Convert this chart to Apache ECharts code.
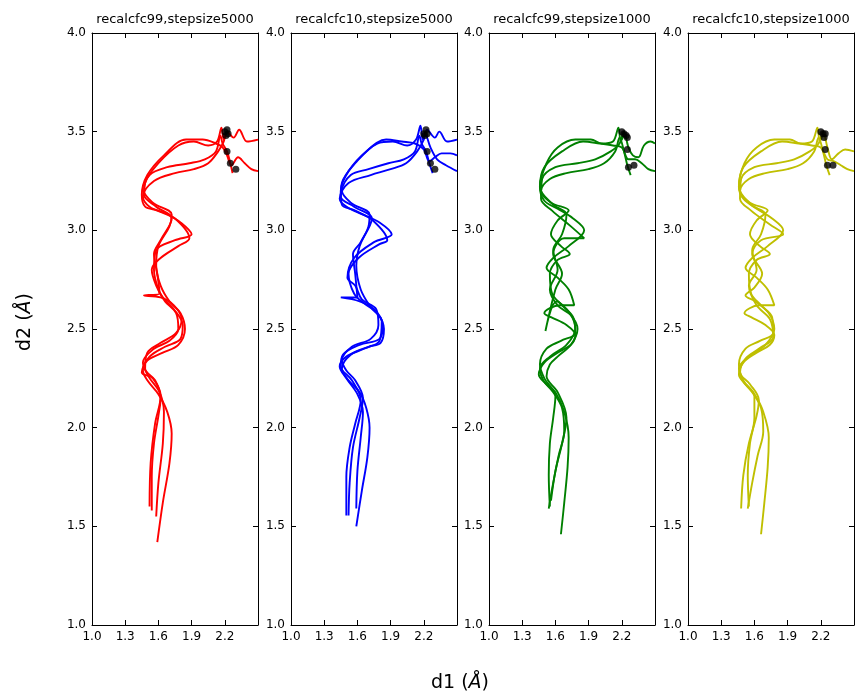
<!DOCTYPE html>
<html><head><meta charset="utf-8">
<script src="https://cdn.jsdelivr.net/npm/echarts@6/dist/echarts.min.js"></script>
<style>html,body{margin:0;padding:0;background:#fff}#c{width:859px;height:695px}</style>
</head><body><div id="c"></div>
<script>
// ---- data ----
const panelTitles = ["recalcfc99,stepsize5000","recalcfc10,stepsize5000","recalcfc99,stepsize1000","recalcfc10,stepsize1000"];
const panelColors = ["#ff0000","#0000ff","#008000","#bfbf00"];
const xTicks = [1.0,1.3,1.6,1.9,2.2];
const yTicks = [1.0,1.5,2.0,2.5,3.0,3.5,4.0];

const red_a = [[1.54,1.58],[1.54,1.75],[1.56,1.92],[1.60,2.06],[1.62,2.15],[1.57,2.24],[1.48,2.30],[1.50,2.38],[1.62,2.43],[1.76,2.48],[1.81,2.55],[1.74,2.62],[1.62,2.66],[1.47,2.67],[1.61,2.68],[1.59,2.78],[1.56,2.88],[1.62,2.95],[1.72,3.06],[1.58,3.12],[1.47,3.18],[1.48,3.24],[1.60,3.34],[1.78,3.43],[1.92,3.45],[2.05,3.43],[2.13,3.45],[2.17,3.52],[2.19,3.46],[2.21,3.49]];
const red_b = [[1.58,1.55],[1.60,1.72],[1.64,1.92],[1.65,2.08],[1.61,2.18],[1.51,2.26],[1.46,2.33],[1.56,2.40],[1.70,2.44],[1.78,2.50],[1.76,2.58],[1.66,2.64],[1.60,2.70],[1.56,2.80],[1.58,2.90],[1.75,2.95],[1.90,2.98],[1.80,3.04],[1.68,3.08],[1.52,3.12],[1.46,3.17],[1.56,3.25],[1.75,3.29],[1.92,3.31],[2.05,3.34],[2.14,3.40],[2.19,3.45],[2.22,3.50],[2.28,3.47],[2.33,3.51],[2.40,3.45],[2.50,3.46]];
const red_c = [[1.59,1.42],[1.64,1.62],[1.70,1.82],[1.72,1.97],[1.68,2.08],[1.60,2.17],[1.50,2.24],[1.46,2.29],[1.52,2.36],[1.66,2.41],[1.80,2.45],[1.82,2.52],[1.74,2.60],[1.64,2.66],[1.58,2.72],[1.54,2.80],[1.62,2.86],[1.78,2.92],[1.88,2.96],[1.75,3.06],[1.60,3.10],[1.48,3.12],[1.45,3.18],[1.50,3.28],[1.65,3.38],[1.85,3.46],[2.00,3.46],[2.12,3.44],[2.18,3.42],[2.22,3.38],[2.26,3.33],[2.32,3.37],[2.38,3.34],[2.44,3.31],[2.50,3.30]];
const red_d = [[1.52,1.60],[1.53,1.82],[1.57,2.02],[1.62,2.16],[1.55,2.25],[1.45,2.28],[1.50,2.34],[1.64,2.38],[1.78,2.42],[1.84,2.50],[1.80,2.58],[1.70,2.64],[1.62,2.72],[1.58,2.82],[1.60,2.92],[1.70,3.02],[1.72,3.08],[1.55,3.14],[1.47,3.20],[1.52,3.28],[1.68,3.32],[1.88,3.34],[2.02,3.36],[2.12,3.40],[2.16,3.48],[2.18,3.44],[2.22,3.40],[2.25,3.34],[2.27,3.29]];

const blue_a = [[1.50,1.555],[1.50,1.75],[1.53,1.90],[1.58,2.02],[1.63,2.14],[1.55,2.24],[1.45,2.31],[1.47,2.37],[1.62,2.42],[1.80,2.45],[1.83,2.52],[1.75,2.60],[1.62,2.64],[1.45,2.66],[1.60,2.66],[1.58,2.78],[1.56,2.88],[1.63,2.94],[1.73,3.06],[1.57,3.12],[1.45,3.17],[1.46,3.24],[1.58,3.34],[1.78,3.44],[1.92,3.45],[2.05,3.43],[2.13,3.46],[2.17,3.53],[2.19,3.46],[2.21,3.49],[2.26,3.42],[2.32,3.36],[2.40,3.33],[2.50,3.30]];
const blue_b = [[1.52,1.555],[1.53,1.72],[1.56,1.90],[1.62,2.05],[1.65,2.15],[1.58,2.24],[1.50,2.29],[1.46,2.34],[1.55,2.41],[1.72,2.45],[1.79,2.52],[1.77,2.60],[1.64,2.65],[1.58,2.72],[1.51,2.76],[1.57,2.86],[1.75,2.94],[1.91,2.98],[1.80,3.04],[1.65,3.08],[1.50,3.12],[1.44,3.16],[1.52,3.24],[1.72,3.28],[1.90,3.31],[2.04,3.34],[2.14,3.40],[2.20,3.46],[2.23,3.51],[2.30,3.47],[2.34,3.50],[2.41,3.45],[2.50,3.46]];
const blue_c = [[1.59,1.50],[1.64,1.68],[1.69,1.85],[1.71,2.00],[1.68,2.10],[1.62,2.18],[1.52,2.24],[1.46,2.30],[1.54,2.37],[1.70,2.41],[1.81,2.43],[1.84,2.50],[1.78,2.58],[1.66,2.63],[1.57,2.68],[1.52,2.78],[1.61,2.86],[1.80,2.93],[1.87,2.95],[1.74,3.05],[1.58,3.10],[1.46,3.13],[1.45,3.20],[1.52,3.30],[1.68,3.40],[1.86,3.46],[2.00,3.45],[2.12,3.44],[2.20,3.41],[2.25,3.35],[2.30,3.37],[2.36,3.39],[2.44,3.39],[2.50,3.38]];
const blue_d = [[1.59,1.59],[1.60,1.78],[1.63,1.95],[1.65,2.08],[1.60,2.17],[1.50,2.25],[1.44,2.31],[1.50,2.36],[1.66,2.40],[1.80,2.44],[1.82,2.54],[1.72,2.61],[1.63,2.70],[1.59,2.82],[1.62,2.92],[1.70,3.02],[1.71,3.08],[1.54,3.14],[1.46,3.20],[1.54,3.28],[1.70,3.31],[1.88,3.34],[2.02,3.36],[2.12,3.40],[2.16,3.48],[2.18,3.44],[2.22,3.40],[2.25,3.34],[2.28,3.29]];

const green_a = [[1.65,1.46],[1.68,1.62],[1.71,1.80],[1.72,1.95],[1.68,2.08],[1.60,2.18],[1.52,2.22],[1.45,2.27],[1.50,2.33],[1.62,2.38],[1.74,2.42],[1.78,2.47],[1.70,2.52],[1.56,2.56],[1.50,2.58],[1.64,2.62],[1.77,2.62],[1.72,2.70],[1.62,2.76],[1.52,2.81],[1.58,2.86],[1.72,2.92],[1.86,3.00],[1.76,3.06],[1.62,3.11],[1.50,3.15],[1.46,3.22],[1.52,3.34],[1.62,3.42],[1.78,3.46],[1.92,3.46],[2.02,3.44],[2.12,3.45],[2.17,3.52],[2.19,3.45],[2.22,3.49]];
const green_b = [[1.54,1.59],[1.58,1.72],[1.63,1.86],[1.68,1.98],[1.66,2.10],[1.58,2.18],[1.49,2.24],[1.46,2.30],[1.55,2.36],[1.70,2.42],[1.78,2.50],[1.73,2.58],[1.61,2.64],[1.51,2.49],[1.60,2.70],[1.66,2.78],[1.58,2.88],[1.68,2.96],[1.86,2.96],[1.74,3.02],[1.57,3.10],[1.47,3.16],[1.48,3.26],[1.60,3.32],[1.80,3.34],[1.96,3.36],[2.10,3.40],[2.18,3.44],[2.22,3.50],[2.26,3.42],[2.30,3.38],[2.35,3.37],[2.40,3.43],[2.46,3.45],[2.50,3.44]];
const green_c = [[1.55,1.60],[1.54,1.76],[1.55,1.92],[1.58,2.05],[1.60,2.16],[1.50,2.25],[1.46,2.32],[1.52,2.40],[1.65,2.44],[1.78,2.48],[1.76,2.56],[1.66,2.62],[1.57,2.68],[1.55,2.78],[1.62,2.85],[1.73,2.88],[1.65,2.92],[1.56,2.98],[1.62,3.05],[1.72,3.10],[1.56,3.14],[1.47,3.20],[1.55,3.26],[1.70,3.29],[1.90,3.31],[2.04,3.34],[2.14,3.40],[2.18,3.47],[2.22,3.40],[2.25,3.33],[2.28,3.28]];
const green_d = [[1.56,1.63],[1.60,1.78],[1.66,1.92],[1.70,2.05],[1.62,2.18],[1.52,2.26],[1.55,2.32],[1.62,2.36],[1.74,2.42],[1.80,2.50],[1.74,2.57],[1.62,2.62],[1.55,2.70],[1.62,2.80],[1.58,2.90],[1.66,2.98],[1.70,3.08],[1.58,3.13],[1.46,3.22],[1.50,3.32],[1.66,3.40],[1.85,3.45],[2.00,3.44],[2.12,3.43],[2.20,3.42],[2.26,3.36],[2.32,3.36],[2.38,3.34],[2.44,3.31],[2.50,3.30]];

const yellow_a = [[1.66,1.46],[1.69,1.62],[1.72,1.80],[1.73,1.95],[1.68,2.08],[1.60,2.17],[1.52,2.22],[1.46,2.27],[1.50,2.33],[1.62,2.38],[1.74,2.42],[1.78,2.47],[1.70,2.52],[1.57,2.56],[1.51,2.58],[1.64,2.62],[1.78,2.62],[1.72,2.70],[1.62,2.76],[1.52,2.81],[1.58,2.86],[1.72,2.92],[1.86,3.00],[1.76,3.06],[1.62,3.11],[1.50,3.16],[1.46,3.22],[1.51,3.34],[1.62,3.42],[1.78,3.46],[1.92,3.46],[2.02,3.44],[2.12,3.45],[2.17,3.52],[2.19,3.45],[2.22,3.49]];
const yellow_b = [[1.54,1.59],[1.58,1.72],[1.63,1.86],[1.68,1.98],[1.66,2.10],[1.58,2.18],[1.49,2.24],[1.46,2.30],[1.55,2.36],[1.70,2.42],[1.78,2.50],[1.73,2.58],[1.61,2.64],[1.52,2.67],[1.60,2.71],[1.67,2.78],[1.58,2.88],[1.66,2.95],[1.86,2.98],[1.74,3.03],[1.57,3.10],[1.47,3.16],[1.48,3.26],[1.60,3.32],[1.80,3.34],[1.96,3.36],[2.10,3.40],[2.18,3.44],[2.22,3.50],[2.26,3.42],[2.30,3.36],[2.36,3.39],[2.42,3.41],[2.50,3.40]];
const yellow_c = [[1.55,1.60],[1.54,1.76],[1.56,1.92],[1.60,2.05],[1.60,2.16],[1.50,2.24],[1.46,2.32],[1.52,2.40],[1.65,2.44],[1.77,2.48],[1.76,2.56],[1.66,2.62],[1.57,2.68],[1.55,2.78],[1.62,2.85],[1.74,2.88],[1.65,2.92],[1.56,2.98],[1.62,3.05],[1.72,3.10],[1.56,3.14],[1.47,3.20],[1.55,3.26],[1.70,3.29],[1.90,3.31],[2.04,3.34],[2.14,3.40],[2.18,3.47],[2.22,3.40],[2.25,3.33],[2.28,3.28]];
const yellow_d = [[1.48,1.59],[1.50,1.76],[1.55,1.92],[1.62,2.06],[1.64,2.14],[1.56,2.22],[1.47,2.28],[1.52,2.35],[1.64,2.40],[1.77,2.46],[1.74,2.55],[1.62,2.62],[1.55,2.72],[1.62,2.80],[1.58,2.90],[1.66,2.98],[1.70,3.08],[1.57,3.13],[1.46,3.22],[1.50,3.32],[1.66,3.40],[1.85,3.45],[2.00,3.44],[2.12,3.43],[2.20,3.42],[2.26,3.36],[2.32,3.35],[2.38,3.33],[2.44,3.31],[2.50,3.30]];

const dots_1 = [[2.20,3.50],[2.22,3.51],[2.21,3.48],[2.23,3.49],[2.22,3.40],[2.25,3.34],[2.30,3.31]];
const dots_2 = [[2.20,3.49],[2.22,3.51],[2.21,3.48],[2.23,3.49],[2.23,3.40],[2.26,3.34],[2.30,3.31]];
const dots_3 = [[2.20,3.50],[2.22,3.49],[2.24,3.48],[2.25,3.47],[2.25,3.41],[2.26,3.32],[2.31,3.33]];
const dots_4 = [[2.20,3.50],[2.22,3.49],[2.24,3.49],[2.23,3.47],[2.24,3.41],[2.26,3.33],[2.31,3.33]];

const panelLines = [[red_a,red_b,red_c,red_d],[blue_a,blue_b,blue_c,blue_d],[green_a,green_b,green_c,green_d],[yellow_a,yellow_b,yellow_c,yellow_d]];
const panelDots = [dots_1,dots_2,dots_3,dots_4];

// ---- layout ----
const lefts = [92,291,489,688];
const W = 166, TOP = 33, H = 592;
const font = "DejaVu Sans";

const grid=[], xAxis=[], yAxis=[], series=[], graphic=[];
lefts.forEach((L,i)=>{
  grid.push({left:L, top:TOP, width:W, height:H, show:false});
  const tickX = {show:true, inside:true, length:5, customValues:xTicks, lineStyle:{color:'#000',width:1}};
  const tickY = {show:true, inside:true, length:5, customValues:yTicks, lineStyle:{color:'#000',width:1}};
  xAxis.push({gridIndex:i, type:'value', min:1.0, max:2.5, position:'bottom',
    axisLine:{show:true, onZero:false, lineStyle:{color:'#000',width:1}},
    axisTick:tickX, splitLine:{show:false},
    axisLabel:{customValues:xTicks, formatter:v=>v.toFixed(1), color:'#000', fontSize:12, fontFamily:font, margin:6}});
  xAxis.push({gridIndex:i, type:'value', min:1.0, max:2.5, position:'top',
    axisLine:{show:true, onZero:false, lineStyle:{color:'#000',width:1}},
    axisTick:tickX, splitLine:{show:false}, axisLabel:{show:false}});
  yAxis.push({gridIndex:i, type:'value', min:1.0, max:4.0, interval:0.5, position:'left',
    axisLine:{show:true, onZero:false, lineStyle:{color:'#000',width:1}},
    axisTick:tickY, splitLine:{show:false},
    axisLabel:{formatter:v=>v.toFixed(1), color:'#000', fontSize:12, fontFamily:font, margin:6}});
  yAxis.push({gridIndex:i, type:'value', min:1.0, max:4.0, interval:0.5, position:'right',
    axisLine:{show:true, onZero:false, lineStyle:{color:'#000',width:1}},
    axisTick:tickY, splitLine:{show:false}, axisLabel:{show:false}});
  panelLines[i].forEach(d=>{
    series.push({type:'line', xAxisIndex:2*i, yAxisIndex:2*i, data:d, showSymbol:false, smooth:0.35,
      clip:true, lineStyle:{color:panelColors[i], width:1.9}, silent:true, animation:false});
  });
  series.push({type:'scatter', xAxisIndex:2*i, yAxisIndex:2*i, data:panelDots[i], symbolSize:7,
    itemStyle:{color:'#000'}, z:5, animation:false, silent:true});
  graphic.push({type:'text', x:L+W/2, y:20, style:{text:panelTitles[i], fill:'#000', fontSize:13, fontFamily:font, textAlign:'center', textVerticalAlign:'middle'}});
});
graphic.push({type:'text', x:25, y:322, rotation:Math.PI/2,
  style:{text:'d2 ({i|Å})', rich:{i:{fontStyle:'italic', fontSize:19, fontFamily:font, fill:'#000'}}, fill:'#000', fontSize:19, fontFamily:font, textAlign:'center', textVerticalAlign:'middle'}});
graphic.push({type:'text', x:460, y:683,
  style:{text:'d1 ({i|Å})', rich:{i:{fontStyle:'italic', fontSize:19, fontFamily:font, fill:'#000'}}, fill:'#000', fontSize:19, fontFamily:font, textAlign:'center', textVerticalAlign:'middle'}});

const chart = echarts.init(document.getElementById('c'), null, {renderer:'canvas'});
chart.setOption({animation:false, backgroundColor:'#fff', grid, xAxis, yAxis, series, graphic});
</script></body></html>
